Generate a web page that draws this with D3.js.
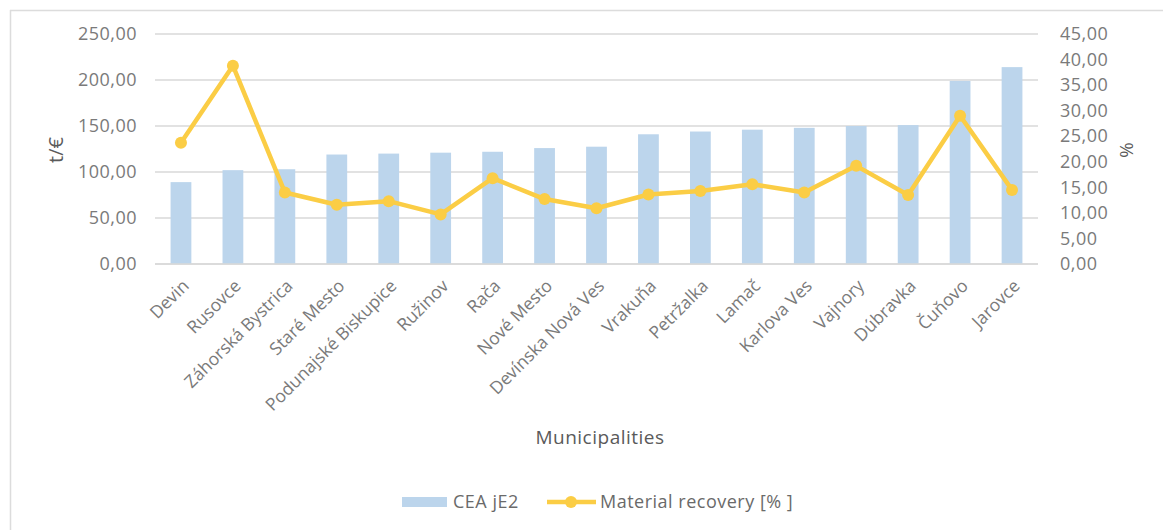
<!DOCTYPE html>
<html>
<head>
<meta charset="utf-8">
<script src="https://cdn.jsdelivr.net/npm/d3@7"></script>
<style>
  html, body { margin: 0; padding: 0; background: #fff; }
  svg { display: block; }
  text { font-family: "Open Sans", "Noto Sans", sans-serif; }
</style>
</head>
<body>
<svg id="chart" width="1163" height="530"></svg>
<script>
const categories = ["Devin","Rusovce","Záhorská Bystrica","Staré Mesto","Podunajské Biskupice","Ružinov","Rača","Nové Mesto","Devínska Nová Ves","Vrakuňa","Petržalka","Lamač","Karlova Ves","Vajnory","Dúbravka","Čuňovo","Jarovce"];
const ceaValues = [89, 102, 103, 119, 120, 121, 122, 126, 127.5, 141, 144, 146, 148, 150, 151, 199, 214];
const recoveryValues = [23.7, 38.8, 14.0, 11.6, 12.3, 9.7, 16.8, 12.7, 10.9, 13.6, 14.3, 15.6, 14.0, 19.2, 13.5, 29.0, 14.5];
const leftTicks = [0, 50, 100, 150, 200, 250];
const rightTicks = [0, 5, 10, 15, 20, 25, 30, 35, 40, 45];
const seriesNames = ["CEA jE2", "Material recovery [% ]"];

const svg = d3.select("#chart");
const plot = { left: 155, right: 1038, top: 34, bottom: 264 };
const barColor = "#bcd5ec";
const lineColor = "#fbcd45";
const gridColor = "#d9d9d9";
const tickColor = "#7a7a7a";
const fmt = v => d3.format(".2f")(v).replace(".", ",");

// chart border (top & left visible)
svg.append("line").attr("x1", 10).attr("x2", 1163).attr("y1", 10.5).attr("y2", 10.5)
  .attr("stroke", "#dcdcdc").attr("stroke-width", 1.5);
svg.append("line").attr("x1", 10.5).attr("x2", 10.5).attr("y1", 10).attr("y2", 530)
  .attr("stroke", "#dcdcdc").attr("stroke-width", 1.5);

const x = d3.scaleBand().domain(categories).range([plot.left, plot.right])
  .paddingInner(0.6).paddingOuter(0.3);
const yL = d3.scaleLinear().domain([0, 250]).range([plot.bottom, plot.top]);
const yR = d3.scaleLinear().domain([0, 45]).range([plot.bottom, plot.top]);

// gridlines
svg.append("g").selectAll("line").data(leftTicks).join("line")
  .attr("x1", plot.left).attr("x2", plot.right)
  .attr("y1", d => yL(d)).attr("y2", d => yL(d))
  .attr("stroke", gridColor).attr("stroke-width", 1.5);

// left axis labels
const leftAxis = d3.axisLeft(yL).tickValues(leftTicks).tickFormat(fmt).tickSize(0).tickPadding(0);
const gL = svg.append("g").attr("transform", "translate(137,0)").call(leftAxis);
gL.select(".domain").remove();
gL.selectAll("text").attr("fill", tickColor).style("font-size", "18px").style("letter-spacing", "0.5px")
  .attr("font-family", '"Open Sans", sans-serif');

// right axis labels
const rightAxis = d3.axisRight(yR).tickValues(rightTicks).tickFormat(fmt).tickSize(0).tickPadding(0);
const gR = svg.append("g").attr("transform", "translate(1060,0)").call(rightAxis);
gR.select(".domain").remove();
gR.selectAll("text").attr("fill", tickColor).style("font-size", "18px").style("letter-spacing", "0.5px")
  .attr("font-family", '"Open Sans", sans-serif');

// bars
svg.append("g").selectAll("rect").data(categories).join("rect")
  .attr("x", d => x(d)).attr("width", x.bandwidth())
  .attr("y", (d, i) => yL(ceaValues[i]))
  .attr("height", (d, i) => yL(0) - yL(ceaValues[i]))
  .attr("fill", barColor);

// bottom axis
const bottomAxis = d3.axisBottom(x).tickSize(0).tickPadding(0);
const gB = svg.append("g").attr("transform", `translate(0,${plot.bottom})`).call(bottomAxis);
gB.select(".domain").attr("stroke", gridColor).attr("stroke-width", 1.5)
  .attr("d", `M${plot.left},0H${plot.right}`);
gB.selectAll("text")
  .attr("fill", tickColor).style("font-size", "17.5px")
  .attr("font-family", '"Open Sans", sans-serif')
  .attr("text-anchor", "end")
  .attr("dy", null).attr("y", 0)
  .attr("transform", "translate(9,23) rotate(-45)");

// line
const line = d3.line()
  .x((d, i) => x(categories[i]) + x.bandwidth() / 2)
  .y(d => yR(d));
svg.append("path").datum(recoveryValues)
  .attr("d", line).attr("fill", "none")
  .attr("stroke", lineColor).attr("stroke-width", 4.5)
  .attr("stroke-linejoin", "round");
svg.append("g").selectAll("circle").data(recoveryValues).join("circle")
  .attr("cx", (d, i) => x(categories[i]) + x.bandwidth() / 2)
  .attr("cy", d => yR(d)).attr("r", 6)
  .attr("fill", lineColor);

// axis titles
svg.append("text").attr("transform", "translate(63,150) rotate(-90)")
  .attr("text-anchor", "middle").attr("fill", "#5a5a5a").style("font-size", "20px").text("t/€");
svg.append("text").attr("transform", "translate(1120,150) rotate(90)")
  .attr("text-anchor", "middle").attr("fill", "#5a5a5a").style("font-size", "19px").text("%");
svg.append("text").attr("x", 600).attr("y", 444)
  .attr("text-anchor", "middle").attr("fill", "#5a5a5a").style("font-size", "19px").style("letter-spacing", "0.5px").text("Municipalities");

// legend
const lg = svg.append("g");
lg.append("rect").attr("x", 402).attr("y", 497).attr("width", 45).attr("height", 10).attr("fill", barColor);
lg.append("text").attr("x", 453).attr("y", 508).attr("fill", "#6a6a6a").style("font-size", "18px").style("letter-spacing", "0.5px").text(seriesNames[0]);
lg.append("line").attr("x1", 547).attr("x2", 596).attr("y1", 502).attr("y2", 502)
  .attr("stroke", lineColor).attr("stroke-width", 4.5);
lg.append("circle").attr("cx", 571).attr("cy", 502).attr("r", 6).attr("fill", lineColor);
lg.append("text").attr("x", 600).attr("y", 508).attr("fill", "#6a6a6a").style("font-size", "18px").style("letter-spacing", "0.5px").text(seriesNames[1]);
</script>
</body>
</html>
